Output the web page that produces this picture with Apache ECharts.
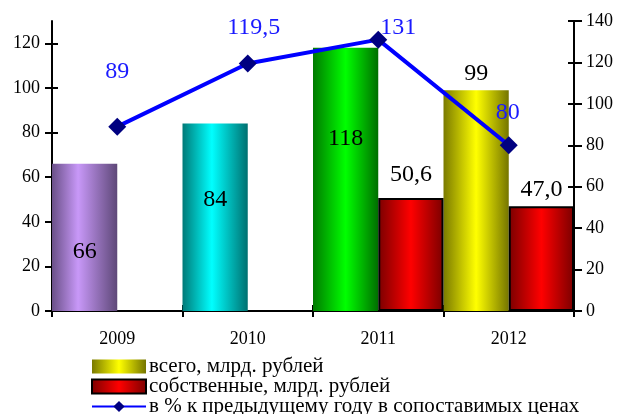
<!DOCTYPE html>
<html>
<head>
<meta charset="utf-8">
<title>chart</title>
<script src="https://cdn.jsdelivr.net/npm/echarts@6/dist/echarts.min.js"></script>
<style>
  html, body { margin: 0; padding: 0; background: #fff; }
  #main { width: 618px; height: 414px; }
</style>
</head>
<body>
<div id="main"></div>
<script>
// data
var years = ['2009', '2010', '2011', '2012'];
var totalVals = [66, 84, 118, 99];
var ownVals = [null, null, 50.6, 47.0];
var pctVals = [89, 119.5, 131, 80];
var leftTicks = [0, 20, 40, 60, 80, 100, 120];
var seriesNames = ['всего, млрд. рублей', 'собственные, млрд. рублей', 'в % к предыдущему году в сопоставимых ценах'];

function grad(edgeL, mid, edgeR, pos) {
    return new echarts.graphic.LinearGradient(0, 0, 1, 0, [
        { offset: 0, color: edgeL },
        { offset: pos, color: mid },
        { offset: 1, color: edgeR }
    ]);
}
// colours for each "total" bar
var totalColors = [
    grad('#6a5088', '#c898f8', '#5e4878', 0.4),
    grad('#007a78', '#00ffff', '#007070', 0.45),
    grad('#007a00', '#00ff00', '#006e00', 0.5),
    grad('#7a7a00', '#ffff00', '#757500', 0.5)
];
var redColor = grad('#7a0000', '#ff0000', '#7a0000', 0.5);

var serif = '"Liberation Serif", "DejaVu Serif", serif';

// where labels go (inside or on top)
var totalLabelPos = ['inside', 'inside', 'inside', 'top'];
var totalLabelOff = [[0, 14], [0, -18], [0, -41], [0, 1]];

var totalData = totalVals.map(function (v, i) {
    return {
        value: v,
        itemStyle: { color: totalColors[i] },
        label: { position: totalLabelPos[i], offset: totalLabelOff[i] }
    };
});
var ownLabelOff = [[0, 0], [0, 0], [0, -6], [0, 1]];
var ownData = ownVals.map(function (v, i) {
    return { value: v, label: { position: 'top', offset: ownLabelOff[i] } };
});

var lineLabelOff = [[0, -29], [6, -10], [20, 14], [-1, -7]];
var pctData = pctVals.map(function (v, i) {
    return { value: v, label: { offset: lineLabelOff[i] } };
});

var fmtComma = function (p) {
    if (p.value == null) return '';
    var v = p.value;
    var s = (p.seriesIndex === 1) ? v.toFixed(1) : String(v);
    return s.replace('.', ',');
};

var chart = echarts.init(document.getElementById('main'));
chart.setOption({
    animation: false,
    backgroundColor: '#fff',
    grid: { left: 52, right: 44, top: 21, bottom: 103 },
    legend: {
        orient: 'vertical',
        left: 86,
        top: 351,
        height: 90,
        itemWidth: 54,
        itemHeight: 14,
        itemGap: -1,
        selectedMode: false,
        textStyle: { fontFamily: serif, fontSize: 21, lineHeight: 19, color: '#000', padding: [0, 0, 0, -2] },
        data: [
            { name: seriesNames[0], icon: 'rect' },
            { name: seriesNames[1], icon: 'rect' },
            { name: seriesNames[2] }
        ]
    },
    xAxis: [{
        type: 'category',
        data: years,
        axisLine: { lineStyle: { color: '#000', width: 2 } },
        axisTick: { show: true, length: 6, lineStyle: { color: '#000', width: 2 } },
        axisLabel: { fontFamily: serif, fontSize: 18, color: '#000', margin: 19 }
    }, {
        type: 'category',
        data: years,
        position: 'bottom',
        axisLine: { show: false },
        axisTick: { show: true, inside: true, length: 6, lineStyle: { color: '#000', width: 2 } },
        axisLabel: { show: false }
    }],
    yAxis: [{
        type: 'value',
        min: 0, max: 130, interval: 20,
        splitLine: { show: false },
        axisLine: { show: true, lineStyle: { color: '#000', width: 2 } },
        axisTick: { show: true, length: 7, customValues: leftTicks, lineStyle: { color: '#000', width: 2 } },
        axisLabel: { fontFamily: serif, fontSize: 18, color: '#000', margin: 12, customValues: leftTicks }
    }, {
        type: 'value',
        min: 0, max: 140, interval: 20,
        position: 'right',
        splitLine: { show: false },
        axisLine: { show: true, lineStyle: { color: '#000', width: 2 } },
        axisTick: { show: true, length: 8, lineStyle: { color: '#000', width: 2 } },
        axisLabel: { fontFamily: serif, fontSize: 18, color: '#000', margin: 12 }
    }, {
        type: 'value',
        min: 0, max: 130, interval: 20,
        position: 'left',
        splitLine: { show: false },
        axisLine: { show: false },
        axisTick: { show: true, inside: true, length: 6, customValues: leftTicks, lineStyle: { color: '#000', width: 2 } },
        axisLabel: { show: false }
    }, {
        type: 'value',
        min: 0, max: 140, interval: 20,
        position: 'right',
        splitLine: { show: false },
        axisLine: { show: false },
        axisTick: { show: true, inside: true, length: 6, lineStyle: { color: '#000', width: 2 } },
        axisLabel: { show: false }
    }],
    series: [{
        name: seriesNames[0],
        type: 'bar',
        yAxisIndex: 0,
        barGap: '0%',
        barCategoryGap: '0%',
        itemStyle: { color: totalColors[3] },
        label: {
            show: true, fontFamily: serif, fontSize: 24, color: '#000',
            formatter: fmtComma
        },
        data: totalData
    }, {
        name: seriesNames[1],
        type: 'bar',
        yAxisIndex: 0,
        barGap: '0%',
        barCategoryGap: '0%',
        itemStyle: { color: redColor, borderColor: '#000', borderWidth: 2 },
        label: {
            show: true, fontFamily: serif, fontSize: 24, color: '#000',
            formatter: fmtComma
        },
        data: ownData
    }, {
        name: seriesNames[2],
        type: 'line',
        yAxisIndex: 1,
        symbol: 'diamond',
        symbolSize: 18,
        lineStyle: { color: '#0000ff', width: 4 },
        itemStyle: { color: '#000080' },
        label: {
            show: true, position: 'top', fontFamily: serif, fontSize: 24, color: '#1a1aff',
            formatter: function (p) { return String(p.value).replace('.', ','); }
        },
        z: 5,
        data: pctData
    }]
});
</script>
</body>
</html>
